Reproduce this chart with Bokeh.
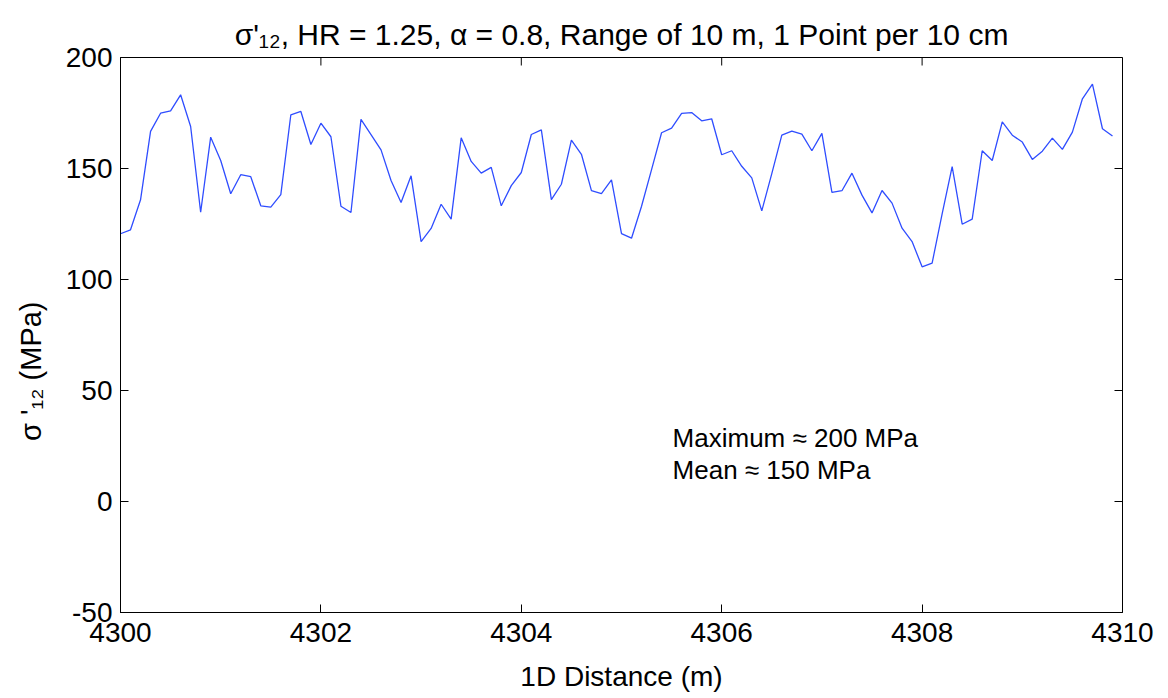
import math
from bokeh.plotting import figure
from bokeh.models import Range1d, FixedTicker, Label
from bokeh.embed import file_html
from bokeh.resources import INLINE

# ---- data ----
x_start = 4300.0
x_step = 0.1
stress = [
    120.6, 122.4, 135.9, 166.7, 174.9, 176.0, 183.2, 168.9, 130.3, 164.1,
    153.6, 138.6, 147.2, 146.3, 133.2, 132.6, 138.2, 174.2, 175.7, 160.8,
    170.4, 164.3, 133.0, 130.2, 172.1, 165.3, 158.4, 144.6, 134.7, 146.7,
    117.1, 123.0, 133.9, 127.2, 163.8, 153.2, 147.9, 150.5, 133.2, 142.3,
    148.2, 165.3, 167.4, 136.0, 142.9, 162.8, 156.4, 140.0, 138.7, 144.9,
    120.7, 118.6, 133.0, 149.5, 166.1, 168.2, 174.8, 175.2, 171.5, 172.4,
    156.2, 158.0, 151.0, 145.8, 130.9, 147.7, 165.0, 166.8, 165.5, 158.0,
    165.8, 139.2, 140.0, 147.9, 138.0, 130.0, 140.1, 134.4, 123.1, 117.1,
    105.7, 107.4, 129.6, 150.8, 124.9, 127.2, 158.0, 153.6, 171.0, 165.0,
    161.9, 154.1, 157.8, 163.7, 158.6, 166.4, 181.4, 188.0, 167.9, 164.6,
]
distance = [x_start + x_step * i for i in range(len(stress))]

x_min, x_max = 4300, 4310
y_min, y_max = -50, 200
x_ticks = [4300, 4302, 4304, 4306, 4308, 4310]
y_ticks = [-50, 0, 50, 100, 150, 200]

title_text = "σ'\u2081\u2082, HR = 1.25, α = 0.8, Range of 10 m, 1 Point per 10 cm"
x_label = "1D Distance (m)"
y_label = "σ '\u2081\u2082 (MPa)"
note_lines = ["Maximum ≈ 200 MPa", "Mean ≈ 150 MPa"]
note_x = 4305.51
note_y = [28.4, 14.0]

FONT = "Liberation Sans"

p = figure(width=1168, height=698, output_backend="svg", toolbar_location=None,
           x_range=Range1d(x_min, x_max), y_range=Range1d(y_min, y_max),
           min_border_left=120, min_border_right=46, min_border_top=57,
           min_border_bottom=86, title=title_text)

p.title.align = "center"
p.title.text_font = FONT
p.title.text_font_size = "30px"
p.title.text_font_style = "normal"
p.title.text_color = "black"
p.title.standoff = 14

p.line(distance, stress, line_color="#2f4dff", line_width=1.3)

p.grid.visible = False
p.outline_line_color = "black"
p.outline_line_width = 1
p.background_fill_color = "white"
p.border_fill_color = "white"

for ax, ticks in ((p.xaxis[0], x_ticks), (p.yaxis[0], y_ticks)):
    ax.ticker = FixedTicker(ticks=ticks)
    ax.major_tick_in = 8
    ax.major_tick_out = 0
    ax.minor_tick_line_color = None
    ax.axis_line_color = "black"
    ax.major_tick_line_color = "black"
    ax.major_label_text_font = FONT
    ax.major_label_text_font_size = "28px"
    ax.major_label_text_color = "black"
    ax.axis_label_text_font = FONT
    ax.axis_label_text_font_size = "28px"
    ax.axis_label_text_font_style = "normal"
    ax.axis_label_text_color = "black"

p.yaxis[0].major_label_overrides = {t: str(t) for t in y_ticks}
p.xaxis[0].axis_label = x_label
p.xaxis[0].major_label_standoff = 10
p.xaxis[0].axis_label_standoff = 16
p.yaxis[0].major_label_standoff = 8
# trailing no-break spaces shift the centred label down, as in the reference
p.yaxis[0].axis_label = y_label + "\u00a0" * 9
p.yaxis[0].axis_label_text_font_size = "29px"
p.yaxis[0].axis_label_standoff = 16

# mirrored ticks on top and right edges (MATLAB box style)
p.ray(x=x_ticks, y=[y_max] * len(x_ticks), length=8, length_units="screen",
      angle=-math.pi / 2, line_color="black", line_width=1)
p.ray(x=[x_max] * len(y_ticks), y=y_ticks, length=8, length_units="screen",
      angle=math.pi, line_color="black", line_width=1)

for txt, yy in zip(note_lines, note_y):
    p.add_layout(Label(x=note_x, y=yy, text=txt, text_font=FONT, text_font_size="26px",
                       text_baseline="middle", text_color="black"))

open("out.html", "w").write(file_html(p, INLINE))
